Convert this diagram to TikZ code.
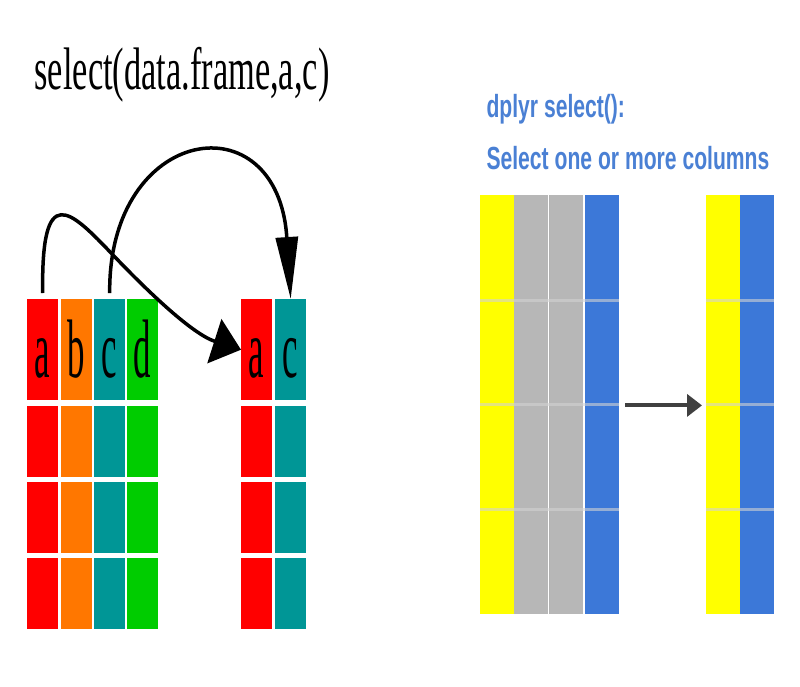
\documentclass[tikz,border=0pt]{standalone}
\usepackage{fontspec}
\setmainfont{Liberation Serif}
\newfontfamily\arialfont{Liberation Sans}
\usetikzlibrary{arrows.meta}

\definecolor{cellred}{RGB}{255,0,0}
\definecolor{cellorange}{RGB}{255,119,0}
\definecolor{cellteal}{RGB}{0,150,150}
\definecolor{cellgreen}{RGB}{0,204,0}
\definecolor{sheetyellow}{RGB}{255,255,0}
\definecolor{sheetgray}{RGB}{183,183,183}
\definecolor{sheetblue}{RGB}{60,120,216}
\definecolor{titleblue}{RGB}{74,128,212}

\newcommand{\squeeze}[2]{\scalebox{#1}[1]{#2}}

\begin{document}
\begin{tikzpicture}[x=1pt,y=-1pt,
    cell/.style={anchor=north west, inner sep=0pt, minimum width=31pt, minimum height=71pt},
    head/.style={cell, minimum height=101pt, text height=56pt, text depth=0pt, font=\fontsize{83}{83}\selectfont},
    sheet/.style={anchor=north west, inner sep=0pt, minimum width=34pt, minimum height=105pt},
    rowline/.style={line width=3pt, white!65!gray, opacity=0.6},
    pick/.style={line width=3.5pt},
    move/.style={line width=4pt, black!75, -{Triangle[length=15pt,width=22pt]}}]
    \useasboundingbox (0,0) rectangle (800,686);
    % left: data frame and the selected columns
    \node[anchor=base, font=\fontsize{60}{60}\selectfont] (call) at (182,89) {\squeeze{0.573}{select(data.frame,a,c)}};
    \foreach \col/\x/\colr in {a/27/cellred, b/61/cellorange, c/94/cellteal, d/127/cellgreen} {
        \node[head, fill=\colr] (L\col0) at (\x,299) {\squeeze{0.42}{\col}};
        \foreach \r/\y in {1/406, 2/482, 3/558}
            \node[cell, fill=\colr] (L\col\r) at (\x,\y) {};
    }
    \foreach \col/\x/\colr in {a/241/cellred, c/275/cellteal} {
        \node[head, fill=\colr] (S\col0) at (\x,299) {\squeeze{0.42}{\col}};
        \foreach \r/\y in {1/406, 2/482, 3/558}
            \node[cell, fill=\colr] (S\col\r) at (\x,\y) {};
    }
    \coordinate (cross) at (113,255);
    \draw[pick, -{Triangle[length=28pt,width=46pt]}] ([yshift=6pt]La0.north)
        .. controls (41,180) and (70,210) .. (cross)
        .. controls (156,300) and (195,335) .. (Sa0.west);
    \draw[pick, -{Triangle[length=62pt,width=22pt]}] ([yshift=6pt]Lc0.north)
        .. controls (108,125) and (278,98) .. (Sc0.north);
    % right: dplyr version
    \node[anchor=base west, text=titleblue, font=\arialfont\bfseries\fontsize{32}{32}\selectfont] (note1) at (483,117) {\squeeze{0.66}{dplyr select():}};
    \node[anchor=base west, text=titleblue, font=\arialfont\bfseries\fontsize{32}{32}\selectfont] (note2) at (483,169) {\squeeze{0.66}{Select one or more columns}};
    \foreach \c/\x/\colr in {1/480/sheetyellow, 2/514/sheetgray, 3/549/sheetgray, 4/585/sheetblue}
        \foreach \r/\y in {1/195, 2/300, 3/404, 4/509}
            \node[sheet, fill=\colr] (B\c\r) at (\x,\y) {};
    \foreach \c/\x/\colr in {1/706/sheetyellow, 2/740/sheetblue}
        \foreach \r/\y in {1/195, 2/300, 3/404, 4/509}
            \node[sheet, fill=\colr] (R\c\r) at (\x,\y) {};
    \draw[black!30, line width=0.8pt] (B31.north west) -- (B34.south west);
    \foreach \r in {2,3,4} {
        \draw[rowline] (B1\r.north west) -- (B4\r.north east);
        \draw[rowline] (R1\r.north west) -- (R2\r.north east);
    }
    \draw[move] ([xshift=6pt]B42.south east) -- ([xshift=-4pt]R12.south west);
\end{tikzpicture}
\end{document}
